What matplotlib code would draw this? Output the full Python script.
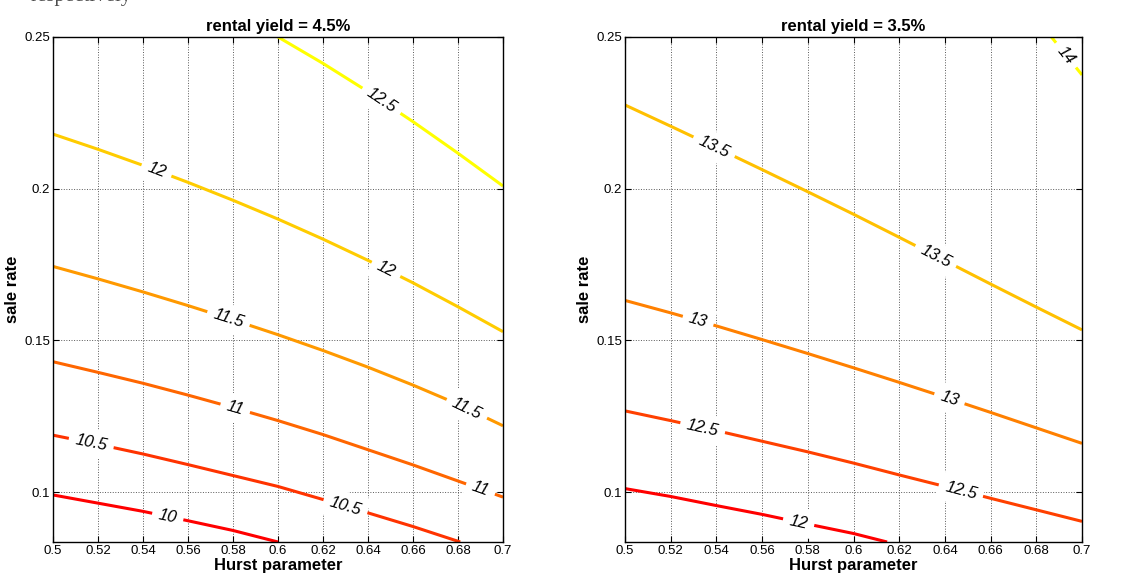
from matplotlib import pyplot as plt
import numpy as np

# Hurst parameter values at which the contour lines were read
hurst = [0.50, 0.52, 0.54, 0.56, 0.58, 0.60, 0.62, 0.64, 0.66, 0.68, 0.70]

# rental yield = 4.5%  (sale rate of each contour line)
left_levels = [10, 10.5, 11, 11.5, 12, 12.5]
left_lines = {
    10:   ([0.50, 0.52, 0.54, 0.56, 0.58, 0.60],
           [0.0991, 0.0964, 0.0937, 0.0906, 0.0874, 0.0836]),
    10.5: ([0.50, 0.52, 0.54, 0.56, 0.58, 0.60, 0.62, 0.64, 0.66, 0.681],
           [0.1188, 0.1158, 0.1126, 0.1091, 0.1055, 0.1019, 0.0976, 0.0932, 0.0887, 0.0836]),
    11:   (hurst, [0.1430, 0.1395, 0.1359, 0.1320, 0.1279, 0.1236, 0.1190, 0.1140, 0.1090, 0.1037, 0.0984]),
    11.5: (hurst, [0.1744, 0.1703, 0.1660, 0.1615, 0.1568, 0.1519, 0.1467, 0.1412, 0.1353, 0.1290, 0.1219]),
    12:   (hurst, [0.2180, 0.2130, 0.2077, 0.2021, 0.1962, 0.1900, 0.1834, 0.1764, 0.1690, 0.1611, 0.1529]),
    12.5: ([0.60, 0.62, 0.64, 0.66, 0.68, 0.70], [0.2500, 0.2413, 0.2320, 0.2221, 0.2117, 0.2009]),
}
left_label_x = {10: [0.551], 10.5: [0.517, 0.630], 11: [0.581, 0.690],
                11.5: [0.578, 0.684], 12: [0.546, 0.648], 12.5: [0.646]}

# rental yield = 3.5%
right_levels = [12, 12.5, 13, 13.5, 14]
right_lines = {
    12:   ([0.50, 0.52, 0.54, 0.56, 0.58, 0.60, 0.6147],
           [0.1012, 0.0986, 0.0956, 0.0927, 0.0895, 0.0864, 0.0836]),
    12.5: (hurst, [0.1268, 0.1236, 0.1203, 0.1168, 0.1133, 0.1096, 0.1057, 0.1019, 0.0980, 0.0942, 0.0904]),
    13:   (hurst, [0.1632, 0.1591, 0.1548, 0.1503, 0.1457, 0.1410, 0.1362, 0.1313, 0.1263, 0.1212, 0.1161]),
    13.5: (hurst, [0.2276, 0.2206, 0.2135, 0.2063, 0.1990, 0.1916, 0.1840, 0.1763, 0.1686, 0.1610, 0.1535]),
    14:   ([0.6866, 0.70], [0.2500, 0.2375]),
}
right_label_x = {12: [0.576], 12.5: [0.534, 0.647], 13: [0.532, 0.642],
                 13.5: [0.539, 0.636], 14: [0.693]}

titles = ['rental yield = 4.5%', 'rental yield = 3.5%']
xticks = [0.5, 0.52, 0.54, 0.56, 0.58, 0.6, 0.62, 0.64, 0.66, 0.68, 0.7]
xticklabels = ['0.5', '0.52', '0.54', '0.56', '0.58', '0.6', '0.62', '0.64', '0.66', '0.68', '0.7']
yticks = [0.1, 0.15, 0.2, 0.25]
yticklabels = ['0.1', '0.15', '0.2', '0.25']

plt.rcParams['font.family'] = ['Liberation Sans', 'DejaVu Sans']

fig = plt.figure(figsize=(11.42, 5.81), dpi=100)
ax1 = fig.add_axes([53 / 1142, 39 / 581, 450 / 1142, 505 / 581])
ax2 = fig.add_axes([625 / 1142, 39 / 581, 457 / 1142, 505 / 581])

# cropped caption text from the page above the figure
fig.text(0.027, 1.0 - 1.0 / 581, 'respectively', family='Liberation Serif', fontsize=15,
         color='0.3', va='baseline', ha='left')


def draw_panel(ax, levels, lines, label_x, title):
    ax.set_xlim(0.5, 0.7)
    ax.set_ylim(0.0836, 0.25)
    cmap = plt.get_cmap('autumn')
    lo, hi = min(levels), max(levels)
    for lev in levels:
        xs, ys = lines[lev]
        col = cmap((lev - lo) / (hi - lo))
        ax.plot(xs, ys, color=col, linewidth=2.2, zorder=2, solid_capstyle='butt',
                solid_joinstyle='round')
        for lx in label_x[lev]:
            ly = np.interp(lx, xs, ys)
            slope = np.interp(lx + 0.002, xs, ys) - np.interp(lx - 0.002, xs, ys)
            p = ax.transData.transform([[lx - 0.002, ly - slope / 2], [lx + 0.002, ly + slope / 2]])
            ang = np.degrees(np.arctan2(p[1, 1] - p[0, 1], p[1, 0] - p[0, 0]))
            ax.text(lx, ly, '{:g}'.format(lev), rotation=ang, rotation_mode='anchor',
                    ha='center', va='center', fontsize=12, style='italic', zorder=2.3,
                    bbox=dict(boxstyle='square,pad=0.4', fc='white', ec='none'))
    ax.set_title(title, fontsize=12, fontweight='bold', pad=4)
    ax.set_xticks(xticks)
    ax.set_xticklabels(xticklabels)
    ax.set_yticks(yticks)
    ax.set_yticklabels(yticklabels)
    ax.tick_params(direction='in', top=True, right=True, labelsize=9.5, length=4, pad=2)
    ax.grid(True, linestyle=':', color='0.35', linewidth=0.7)
    ax.set_axisbelow(True)
    ax.set_xlabel('Hurst parameter', fontsize=12, fontweight='bold', labelpad=1)
    ax.set_ylabel('sale rate', fontsize=12, fontweight='bold', labelpad=3)
    for s in ax.spines.values():
        s.set_linewidth(1.0)


draw_panel(ax1, left_levels, left_lines, left_label_x, titles[0])
draw_panel(ax2, right_levels, right_lines, right_label_x, titles[1])

plt.savefig('out.png', dpi=100)
plt.close(fig)
